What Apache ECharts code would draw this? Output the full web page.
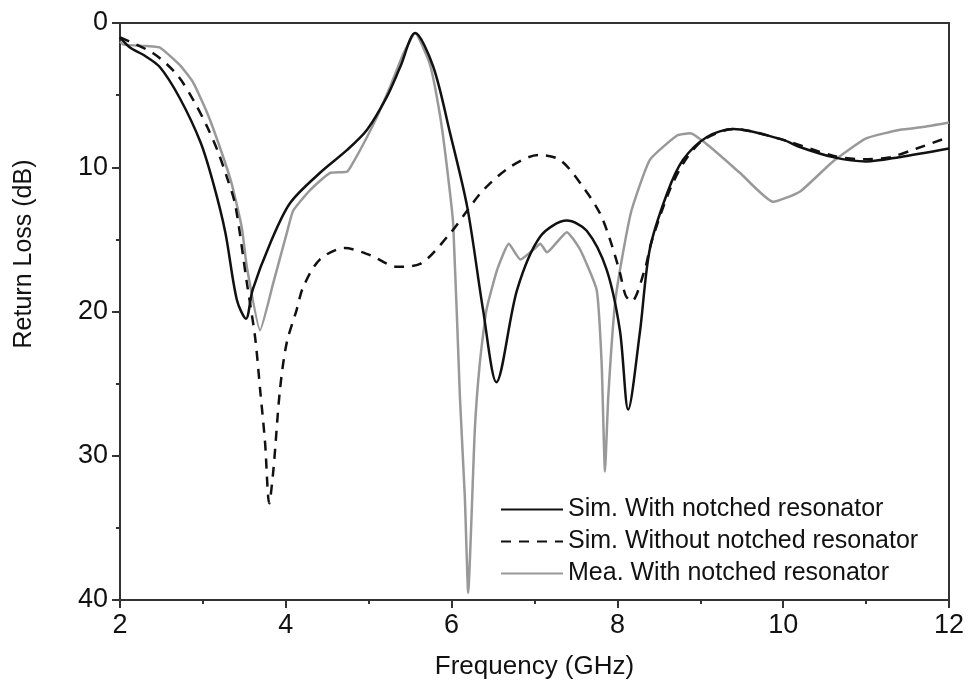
<!DOCTYPE html>
<html>
<head>
<meta charset="utf-8">
<script src="https://cdn.jsdelivr.net/npm/echarts@6/dist/echarts.min.js"></script>
<style>
  html, body { margin: 0; padding: 0; background: #fff; }
  #chart { width: 971px; height: 686px; }
</style>
</head>
<body>
<div id="chart"></div>
<script>
  // Sim. With notched resonator
  var simFreq = [2.00, 2.12, 2.28, 2.48, 2.72, 2.97, 3.12, 3.27, 3.41, 3.52, 3.60, 3.81, 4.05, 4.41, 4.74, 4.98, 5.22, 5.38, 5.56,
    5.78, 5.98, 6.19, 6.38, 6.54, 6.79, 7.07, 7.39, 7.63, 7.87, 8.03, 8.13, 8.27, 8.39, 8.60, 8.79, 9.08, 9.40, 10.0, 10.2, 10.6, 11.0, 11.4, 12.0]
  var simRL = [1.0, 1.7, 2.2, 3.05, 5.2, 8.25, 11.0, 14.5, 19.2, 20.5, 18.5, 15.3, 12.5, 10.4, 8.8, 7.4, 5.1, 3.05, 0.7,
    3.05, 7.6, 12.8, 19.9, 24.9, 18.5, 14.8, 13.7, 14.4, 17.1, 21.3, 26.8, 21.5, 15.7, 11.8, 9.5, 7.9, 7.35, 8.1, 8.6, 9.3, 9.6, 9.3, 8.7]

  // Sim. Without notched resonator
  var noFreq = [2.00, 2.40, 2.69, 2.90, 3.06, 3.18, 3.29, 3.39, 3.53, 3.63, 3.69, 3.75, 3.80, 3.85, 3.93, 4.01, 4.13, 4.21, 4.41,
    4.71, 5.02, 5.34, 5.62, 5.98, 6.19, 6.38, 6.70, 7.05, 7.31, 7.59, 7.79, 7.91, 8.03, 8.10, 8.17, 8.33, 8.41, 8.63, 8.82, 9.04,
    9.40, 10.0, 10.6, 10.97, 11.29, 11.61, 12.0]
  var noRL = [1.0, 2.1, 3.6, 5.5, 7.3, 8.9, 10.7, 12.6, 18.0, 21.8, 25.4, 29.1, 33.3, 31.0, 25.4, 22.2, 19.9, 18.3, 16.4,
    15.6, 16.1, 16.9, 16.7, 14.6, 13.0, 11.6, 10.0, 9.15, 9.5, 11.4, 13.2, 15.0, 17.3, 18.9, 19.3, 17.1, 15.2, 11.6, 9.5, 8.1,
    7.35, 8.1, 9.2, 9.45, 9.3, 8.7, 7.9]

  // Mea. With notched resonator
  var meaFreq = [2.00, 2.04, 2.33, 2.48, 2.72, 2.88, 3.05, 3.21, 3.35, 3.47, 3.53, 3.69, 3.85, 4.01, 4.09, 4.29, 4.53, 4.74, 4.81,
    4.98, 5.10, 5.26, 5.42, 5.56, 5.74, 5.86, 5.94, 6.02, 6.10, 6.16, 6.20, 6.28, 6.34, 6.42, 6.55, 6.69, 6.83, 6.99, 7.07, 7.15,
    7.39, 7.55, 7.75, 7.81, 7.85, 7.89, 7.97, 8.05, 8.17, 8.39, 8.72, 8.88, 9.12, 9.48, 9.88, 10.2, 10.6, 11.0, 11.41, 11.7, 12.0]
  var meaRL = [1.3, 1.5, 1.6, 1.7, 2.9, 4.1, 6.2, 8.7, 11.2, 14.2, 16.9, 21.3, 18.0, 14.6, 13.0, 11.6, 10.4, 10.3, 9.7,
    7.9, 6.5, 4.4, 2.1, 0.7, 2.9, 6.4, 9.8, 14.0, 25.9, 32.9, 39.5, 28.2, 23.6, 19.9, 17.1, 15.3, 16.4, 15.7, 15.3, 15.9,
    14.5, 15.7, 18.5, 23.6, 31.1, 25.9, 19.5, 16.5, 13.0, 9.5, 7.8, 7.65, 8.6, 10.4, 12.4, 11.7, 9.6, 8.0, 7.4, 7.2, 6.9]

  var xTicks = [2, 4, 6, 8, 10, 12]
  var yTicks = [0, 10, 20, 30, 40]

  function pairs (xs, ys) {
    return xs.map(function (x, i) { return [x, ys[i]] })
  }

  var font = '"Liberation Sans", Arial, Helvetica, sans-serif'
  var chart = echarts.init(document.getElementById('chart'))
  chart.setOption({
    animation: false,
    textStyle: { fontFamily: font },
    grid: {
      left: 120, right: 22, top: 23, bottom: 86,
      show: true, borderColor: '#333', borderWidth: 2
    },
    legend: {
      orient: 'vertical',
      left: 495,
      top: 491,
      itemWidth: 62,
      itemHeight: 14,
      itemGap: 5,
      itemStyle: { opacity: 0, borderWidth: 0 },
      textStyle: { fontSize: 25, color: '#111', fontFamily: font, lineHeight: 27 },
      data: ['Sim. With notched resonator', 'Sim. Without notched resonator', 'Mea. With notched resonator']
    },
    xAxis: {
      type: 'value',
      position: 'bottom',
      min: xTicks[0],
      max: xTicks[xTicks.length - 1],
      interval: 2,
      name: 'Frequency (GHz)',
      nameLocation: 'middle',
      nameGap: 54,
      nameTextStyle: { fontSize: 26, color: '#111', fontFamily: font },
      axisLine: { onZero: false, lineStyle: { color: '#333', width: 2 } },
      axisTick: { length: 8, lineStyle: { color: '#333', width: 2 } },
      minorTick: { show: true, splitNumber: 2, length: 4, lineStyle: { color: '#333', width: 2 } },
      axisLabel: { fontSize: 27, color: '#111', margin: 12, fontFamily: font },
      splitLine: { show: false }
    },
    yAxis: {
      type: 'value',
      position: 'left',
      inverse: true,
      min: yTicks[0],
      max: yTicks[yTicks.length - 1],
      interval: 10,
      axisLine: { show: true, onZero: false, lineStyle: { color: '#333', width: 2 } },
      axisTick: { show: true, length: 8, lineStyle: { color: '#333', width: 2 } },
      minorTick: { show: true, splitNumber: 2, length: 4, lineStyle: { color: '#333', width: 2 } },
      axisLabel: { fontSize: 27, color: '#111', margin: 12, fontFamily: font },
      splitLine: { show: false }
    },
    graphic: [{
      type: 'text',
      x: 24,
      y: 254,
      rotation: Math.PI / 2,
      style: {
        text: 'Return Loss (dB)',
        fontSize: 25,
        fontFamily: font,
        fill: '#111',
        textAlign: 'center',
        textVerticalAlign: 'middle'
      }
    }],
    series: [{
      name: 'Sim. With notched resonator',
      type: 'line',
      symbol: 'none',
      smooth: 0.3,
      z: 3,
      data: pairs(simFreq, simRL),
      lineStyle: { color: '#111', width: 2.5 },
      itemStyle: { color: '#111' }
    }, {
      name: 'Sim. Without notched resonator',
      type: 'line',
      symbol: 'none',
      smooth: 0.3,
      z: 4,
      data: pairs(noFreq, noRL),
      lineStyle: { color: '#111', width: 2.5, type: [10, 8] },
      itemStyle: { color: '#111' }
    }, {
      name: 'Mea. With notched resonator',
      type: 'line',
      symbol: 'none',
      smooth: 0.15,
      z: 2,
      data: pairs(meaFreq, meaRL),
      lineStyle: { color: '#999', width: 2.5 },
      itemStyle: { color: '#999' }
    }]
  })
</script>
</body>
</html>
